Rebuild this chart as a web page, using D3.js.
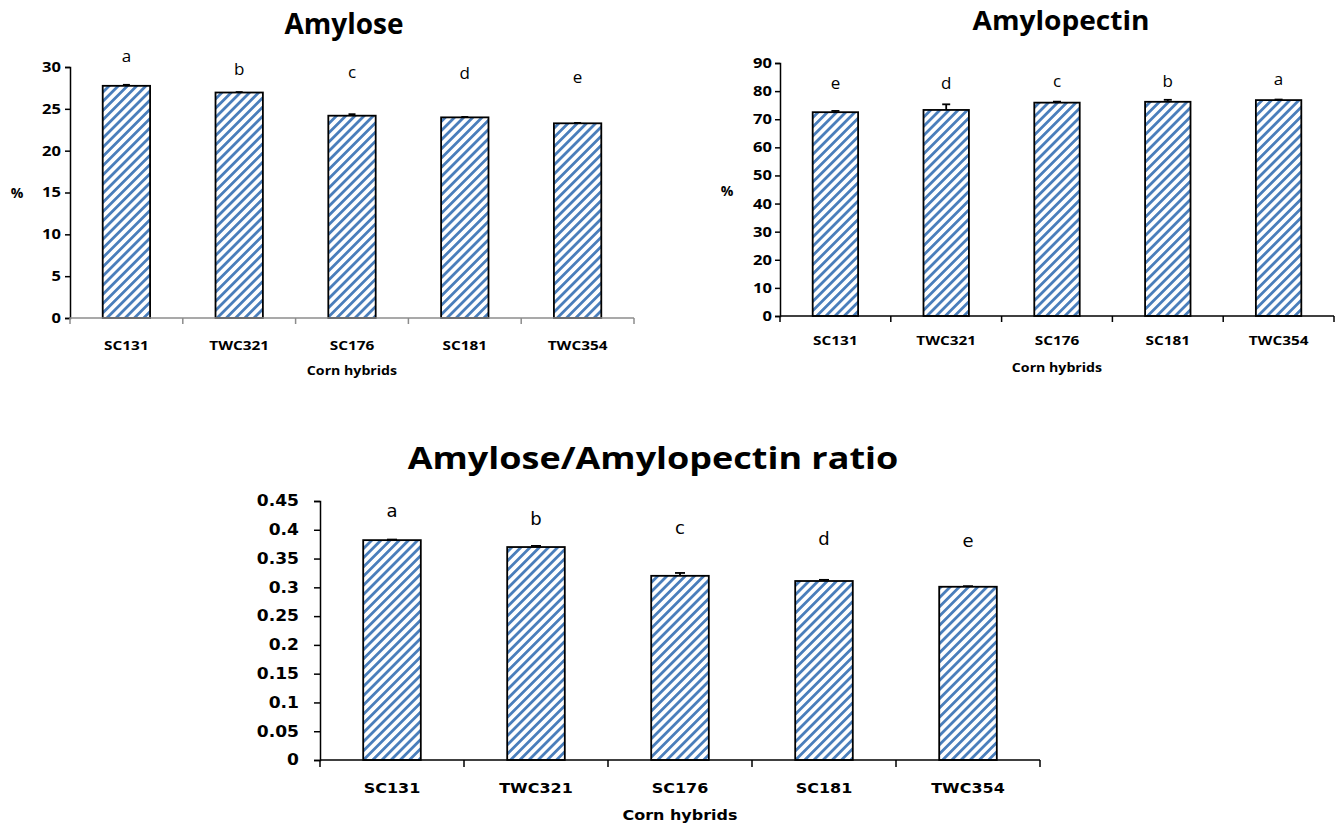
<!DOCTYPE html>
<html>
<head>
<meta charset="utf-8">
<script src="https://cdn.jsdelivr.net/npm/d3@7"></script>
<style>
  html, body { margin: 0; padding: 0; background: #fff; }
  svg { display: block; }
</style>
</head>
<body>
<svg id="chart" width="1339" height="825"></svg>
<script>
// ---------- DATA ----------
const categories = ["SC131", "TWC321", "SC176", "SC181", "TWC354"];

const amyloseValues = [27.75, 26.95, 24.18, 23.98, 23.27];
const amyloseErrors = [0.12, 0.05, 0.18, 0.05, 0.05];
const amyloseLetters = ["a", "b", "c", "d", "e"];
const amyloseLetterPos = [30.6, 29.0, 28.7, 28.6, 28.1];
const amyloseTicks = [0, 5, 10, 15, 20, 25, 30];

const amylopectinValues = [72.5, 73.3, 75.9, 76.2, 76.8];
const amylopectinErrors = [0.45, 2.0, 0.35, 0.7, 0.2];
const amylopectinLetters = ["e", "d", "c", "b", "a"];
const amylopectinLetterPos = [80.8, 80.8, 81.5, 81.5, 82.2];
const amylopectinTicks = [0, 10, 20, 30, 40, 50, 60, 70, 80, 90];

const ratioValues = [0.382, 0.370, 0.320, 0.311, 0.301];
const ratioErrors = [0.001, 0.002, 0.005, 0.002, 0.001];
const ratioLetters = ["a", "b", "c", "d", "e"];
const ratioLetterPos = [0.422, 0.408, 0.393, 0.374, 0.370];
const ratioTicks = [0, 0.05, 0.1, 0.15, 0.2, 0.25, 0.3, 0.35, 0.4, 0.45];
const ratioTickLabels = ["0", "0.05", "0.1", "0.15", "0.2", "0.25", "0.3", "0.35", "0.4", "0.45"];

// ---------- SETUP ----------
const svg = d3.select("#chart");
const defs = svg.append("defs");
const pat = defs.append("pattern")
  .attr("id", "stripes")
  .attr("patternUnits", "userSpaceOnUse")
  .attr("width", 6.5).attr("height", 6.5)
  .attr("patternTransform", "rotate(45)");
pat.append("rect").attr("width", 6.5).attr("height", 6.5).attr("fill", "#ffffff");
pat.append("rect").attr("x", 0).attr("width", 2.8).attr("height", 6.5).attr("fill", "#4a7ebb");

function stretch(sel, k) {
  sel.each(function () {
    const w = this.getComputedTextLength();
    if (w > 0) {
      d3.select(this).attr("textLength", w * k).attr("lengthAdjust", "spacingAndGlyphs");
    }
  });
}

function drawChart(cfg) {
  const g = svg.append("g");
  const x = d3.scaleBand().domain(categories).range(cfg.xRange).paddingInner(0).paddingOuter(0);
  const y = d3.scaleLinear().domain(cfg.yDomain).range(cfg.yRange);
  const bw = x.bandwidth() * cfg.barFrac;

  // bars
  g.selectAll("rect.bar").data(cfg.values).join("rect")
    .attr("class", "bar")
    .attr("x", (d, i) => x(categories[i]) + (x.bandwidth() - bw) / 2)
    .attr("y", d => y(d))
    .attr("width", bw)
    .attr("height", d => y(0) - y(d))
    .attr("fill", "url(#stripes)")
    .attr("stroke", "#000")
    .attr("stroke-width", 1.8);

  // error bars
  const eg = g.append("g").attr("stroke", "#000").attr("stroke-width", 1.8);
  cfg.values.forEach((v, i) => {
    const cx = x(categories[i]) + x.bandwidth() / 2;
    const top = y(v + cfg.errors[i]);
    eg.append("line").attr("x1", cx).attr("x2", cx).attr("y1", y(v)).attr("y2", top);
    eg.append("line").attr("x1", cx - cfg.cap / 2).attr("x2", cx + cfg.cap / 2).attr("y1", top).attr("y2", top);
  });

  // y axis
  const yAxis = d3.axisLeft(y).tickValues(cfg.ticks).tickSize(cfg.tickLen).tickPadding(cfg.tickPad)
    .tickFormat((d, i) => cfg.tickLabels ? cfg.tickLabels[i] : d3.format("d")(d));
  const ya = g.append("g").attr("transform", `translate(${cfg.xRange[0]},0)`).call(yAxis);
  ya.select(".domain").attr("stroke", cfg.yAxisColor).attr("stroke-width", 1.5);
  ya.selectAll(".tick line").attr("stroke", cfg.yAxisColor).attr("stroke-width", 1.5);
  ya.selectAll(".tick text")
    .attr("font-family", cfg.tickFont).attr("font-weight", "bold")
    .attr("font-size", cfg.tickSize).attr("fill", "#000");
  stretch(ya.selectAll(".tick text"), cfg.stretch);

  // x axis (line + boundary ticks)
  const y0 = y(0);
  const xg = g.append("g").attr("stroke", cfg.xAxisColor).attr("stroke-width", 1.5);
  xg.append("line").attr("x1", cfg.xRange[0]).attr("x2", cfg.xRange[1]).attr("y1", y0).attr("y2", y0);
  d3.range(categories.length + 1).forEach(k => {
    const bx = cfg.xRange[0] + k * x.step();
    xg.append("line").attr("x1", bx).attr("x2", bx).attr("y1", y0).attr("y2", y0 + cfg.xTickLen);
  });

  // category labels
  const cl = g.selectAll("text.cat").data(categories).join("text")
    .attr("class", "cat")
    .attr("x", d => x(d) + x.bandwidth() / 2)
    .attr("y", y0 + cfg.catDy)
    .attr("text-anchor", "middle")
    .attr("font-family", cfg.tickFont).attr("font-weight", "bold")
    .attr("font-size", cfg.catSize).attr("fill", "#000")
    .text(d => d);
  stretch(cl, cfg.stretch);

  // significance letters
  g.selectAll("text.letter").data(cfg.letters).join("text")
    .attr("class", "letter")
    .attr("x", (d, i) => x(categories[i]) + x.bandwidth() / 2)
    .attr("y", (d, i) => y(cfg.letterPos[i]))
    .attr("text-anchor", "middle")
    .attr("font-family", cfg.letterFont)
    .attr("font-size", cfg.letterSize).attr("fill", "#000")
    .text(d => d);

  // x axis title
  const xt = g.append("text")
    .attr("x", (cfg.xRange[0] + cfg.xRange[1]) / 2)
    .attr("y", y0 + cfg.xTitleDy)
    .attr("text-anchor", "middle")
    .attr("font-family", cfg.tickFont).attr("font-weight", "bold")
    .attr("font-size", cfg.xTitleSize).attr("fill", "#000")
    .text("Corn hybrids");
  stretch(xt, cfg.stretch);

  // y axis title
  if (cfg.yTitle) {
    g.append("text")
      .attr("x", cfg.yTitlePos[0]).attr("y", cfg.yTitlePos[1])
      .attr("text-anchor", "middle")
      .attr("font-family", cfg.tickFont).attr("font-weight", "bold")
      .attr("font-size", cfg.tickSize).attr("fill", "#000")
      .text(cfg.yTitle);
  }

  // chart title
  const t = g.append("text")
    .attr("x", cfg.titlePos[0]).attr("y", cfg.titlePos[1])
    .attr("text-anchor", "middle")
    .attr("font-family", "'Open Sans', sans-serif").attr("font-weight", "bold")
    .attr("font-size", cfg.titleSize).attr("fill", "#000")
    .text(cfg.title);
  stretch(t, cfg.titleStretch);
}

drawChart({
  title: "Amylose", titlePos: [344, 34], titleSize: 28, titleStretch: 1.0,
  values: amyloseValues, errors: amyloseErrors, letters: amyloseLetters, letterPos: amyloseLetterPos,
  ticks: amyloseTicks, yDomain: [0, 30], yRange: [318, 67], xRange: [70, 634],
  barFrac: 0.42, cap: 7, tickLen: 5, tickPad: 4, xTickLen: 6,
  yAxisColor: "#000", xAxisColor: "#8c8c8c",
  tickFont: "'Open Sans', sans-serif", tickSize: 14, catSize: 13, catDy: 32, stretch: 1.18,
  letterFont: "'Open Sans', sans-serif", letterSize: 17,
  xTitleDy: 57, xTitleSize: 12,
  yTitle: "%", yTitlePos: [17, 198]
});

drawChart({
  title: "Amylopectin", titlePos: [1061, 30], titleSize: 27, titleStretch: 1.04,
  values: amylopectinValues, errors: amylopectinErrors, letters: amylopectinLetters, letterPos: amylopectinLetterPos,
  ticks: amylopectinTicks, yDomain: [0, 90], yRange: [316, 63], xRange: [780, 1334],
  barFrac: 0.41, cap: 8, tickLen: 5, tickPad: 3, xTickLen: 6,
  yAxisColor: "#000", xAxisColor: "#000",
  tickFont: "'Open Sans', sans-serif", tickSize: 14, catSize: 13, catDy: 29, stretch: 1.18,
  letterFont: "'Open Sans', sans-serif", letterSize: 17,
  xTitleDy: 56, xTitleSize: 12,
  yTitle: "%", yTitlePos: [727, 196]
});

drawChart({
  title: "Amylose/Amylopectin ratio", titlePos: [653, 469], titleSize: 31, titleStretch: 1.16,
  values: ratioValues, errors: ratioErrors, letters: ratioLetters, letterPos: ratioLetterPos,
  ticks: ratioTicks, tickLabels: ratioTickLabels, yDomain: [0, 0.45], yRange: [760, 501], xRange: [320, 1040],
  barFrac: 0.40, cap: 10, tickLen: 6, tickPad: 15, xTickLen: 7,
  yAxisColor: "#000", xAxisColor: "#000",
  tickFont: "'DejaVu Sans', sans-serif", tickSize: 15, catSize: 14, catDy: 33, stretch: 1.14,
  letterFont: "'DejaVu Sans', sans-serif", letterSize: 18,
  xTitleDy: 60, xTitleSize: 14,
  yTitle: null
});
</script>
</body>
</html>
